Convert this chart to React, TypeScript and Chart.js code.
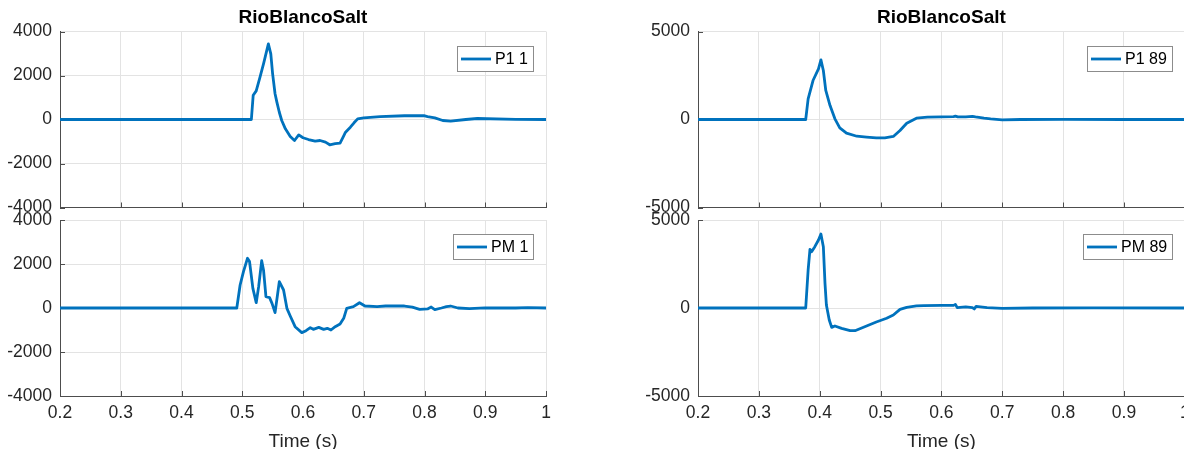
import React, { useEffect, useRef } from "react";
import { Chart, registerables } from "chart.js";

Chart.register(...registerables);

const FONT = '"Liberation Sans", Arial, Helvetica, sans-serif';
const TITLE = "RioBlancoSalt";
const X_LABEL = "Time (s)";
const X_MIN = 0.2;
const X_MAX = 1;
const X_STEP = 0.1;
const LINE_COLOR = "#0072BD";

// P1 1 (top left)
const p1_1_t = [0.2, 0.515, 0.518, 0.523, 0.529, 0.535, 0.540, 0.543, 0.547, 0.550, 0.554, 0.557, 0.561, 0.565, 0.571, 0.579, 0.586, 0.593, 0.600, 0.609, 0.620, 0.628, 0.637, 0.644, 0.653, 0.661, 0.666, 0.670, 0.678, 0.684, 0.690, 0.700, 0.727, 0.767, 0.799, 0.805, 0.817, 0.830, 0.843, 0.868, 0.887, 0.95, 1.0];
const p1_1_v = [0, 0, 1100, 1300, 1900, 2530, 3100, 3440, 2980, 2075, 1170, 790, 330, -45, -425, -770, -955, -700, -830, -910, -985, -955, -1030, -1150, -1100, -1075, -800, -575, -350, -150, 30, 75, 135, 170, 180, 135, 75, -45, -75, 0, 45, 10, 0];

// PM 1 (bottom left)
const pm_1_t = [0.2, 0.491, 0.4965, 0.502, 0.5086, 0.512, 0.5175, 0.523, 0.527, 0.532, 0.535, 0.539, 0.545, 0.549, 0.554, 0.558, 0.561, 0.568, 0.5735, 0.579, 0.587, 0.598, 0.605, 0.612, 0.617, 0.626, 0.634, 0.640, 0.646, 0.653, 0.661, 0.667, 0.672, 0.683, 0.693, 0.702, 0.722, 0.736, 0.767, 0.780, 0.792, 0.805, 0.811, 0.817, 0.828, 0.836, 0.843, 0.855, 0.874, 0.9, 0.95, 0.97, 1.0];
const pm_1_v = [0, 0, 1045, 1650, 2260, 2110, 895, 242, 970, 2150, 1730, 515, 470, 212, -212, 590, 1200, 818, -15, -364, -850, -1120, -1030, -894, -970, -880, -970, -924, -1000, -850, -727, -470, -15, 60, 240, 90, 60, 90, 90, 40, -60, -40, 45, -75, 0, 60, 90, 0, -30, 10, 0, 20, 0];

// P1 89 (top right)
const p1_89_t = [0.2, 0.377, 0.381, 0.389, 0.398, 0.402, 0.406, 0.410, 0.417, 0.425, 0.433, 0.444, 0.461, 0.477, 0.493, 0.507, 0.521, 0.532, 0.543, 0.559, 0.577, 0.600, 0.620, 0.623, 0.627, 0.640, 0.651, 0.656, 0.670, 0.681, 0.700, 0.73, 0.8, 0.9, 1.0];
const p1_89_v = [0, 0, 1175, 2215, 2880, 3390, 2785, 1650, 795, 40, -475, -775, -950, -1000, -1040, -1040, -965, -625, -210, 75, 132, 150, 160, 190, 150, 150, 180, 150, 80, 38, -19, 0, 10, 0, 0];

// PM 89 (bottom right)
const pm_89_t = [0.2, 0.377, 0.381, 0.384, 0.3867, 0.392, 0.398, 0.402, 0.406, 0.4087, 0.411, 0.4157, 0.4197, 0.425, 0.436, 0.450, 0.458, 0.466, 0.477, 0.493, 0.510, 0.521, 0.532, 0.543, 0.559, 0.571, 0.600, 0.620, 0.623, 0.626, 0.640, 0.651, 0.654, 0.657, 0.675, 0.700, 0.75, 0.85, 1.0];
const pm_89_v = [0, 0, 2160, 3335, 3200, 3485, 3865, 4205, 3485, 1400, 170, -680, -1100, -1020, -1155, -1290, -1290, -1175, -1020, -795, -585, -400, -75, 38, 115, 132, 150, 150, 207, 19, 60, 19, -56, 94, 19, -19, 0, 10, 0];

const LEFT_Y_MIN = -4000;
const LEFT_Y_MAX = 4000;
const LEFT_Y_STEP = 2000;
const RIGHT_Y_MIN = -5000;
const RIGHT_Y_MAX = 5000;
const RIGHT_Y_STEP = 5000;

const inwardTicks = {
  id: "inwardTicks",
  beforeDatasetsDraw(chart: any) {
    const { ctx, chartArea, scales } = chart;
    const xs = scales.x;
    const ys = scales.y;
    ctx.save();
    ctx.strokeStyle = "#4d4d4d";
    ctx.lineWidth = 1;
    ctx.beginPath();
    xs.ticks.forEach((t: any) => {
      const px = Math.round(xs.getPixelForValue(t.value)) + 0.5;
      ctx.moveTo(px, chartArea.bottom);
      ctx.lineTo(px, chartArea.bottom - 5);
    });
    ys.ticks.forEach((t: any) => {
      const py = Math.round(ys.getPixelForValue(t.value)) + 0.5;
      ctx.moveTo(chartArea.left, py);
      ctx.lineTo(chartArea.left + 5, py);
    });
    ctx.stroke();
    ctx.restore();
  },
};

const legendBox = {
  id: "legendBox",
  afterDraw(chart: any) {
    const ds = chart.data.datasets[0];
    const { ctx, chartArea } = chart;
    ctx.save();
    ctx.font = `16px ${FONT}`;
    const tw = ctx.measureText(ds.label).width;
    const padL = 4, lineLen = 30, gap = 4, padR = 5;
    const w = Math.round(padL + lineLen + gap + tw + padR);
    const h = 25;
    const right = Math.round(chartArea.right - 13);
    const left = right - w;
    const top = Math.round(chartArea.top + 14);
    ctx.fillStyle = "#ffffff";
    ctx.fillRect(left, top, w, h);
    ctx.strokeStyle = "#8c8c8c";
    ctx.lineWidth = 1;
    ctx.strokeRect(left + 0.5, top + 0.5, w, h);
    ctx.strokeStyle = ds.borderColor;
    ctx.lineWidth = 2.8;
    ctx.beginPath();
    ctx.moveTo(left + padL, top + h / 2 + 0.5);
    ctx.lineTo(left + padL + lineLen, top + h / 2 + 0.5);
    ctx.stroke();
    ctx.fillStyle = "#000000";
    ctx.textBaseline = "middle";
    ctx.textAlign = "left";
    ctx.fillText(ds.label, left + padL + lineLen + gap, top + h / 2 + 1);
    ctx.restore();
  },
};

type PanelProps = {
  label: string;
  times: number[];
  values: number[];
  yMin: number;
  yMax: number;
  yStep: number;
  isTop: boolean;
  left: number;
  top: number;
  width: number;
  height: number;
  yAxisWidth: number;
  padRight: number;
  padTop: number;
  xAxisHeight: number;
};

function Panel(p: PanelProps) {
  const ref = useRef<HTMLCanvasElement | null>(null);
  useEffect(() => {
    if (!ref.current) return;
    const chart = new Chart(ref.current, {
      type: "line",
      data: {
        datasets: [
          {
            label: p.label,
            data: p.times.map((t, i) => ({ x: t, y: p.values[i] })),
            borderColor: LINE_COLOR,
            backgroundColor: LINE_COLOR,
            borderWidth: 2.8,
            pointRadius: 0,
            tension: 0,
            fill: false,
            borderJoinStyle: "round",
            borderCapStyle: "round",
          },
        ],
      },
      options: {
        animation: false,
        responsive: false,
        maintainAspectRatio: false,
        events: [],
        layout: { padding: { left: 0, right: p.padRight, top: p.padTop, bottom: 0 } },
        plugins: {
          legend: { display: false },
          tooltip: { enabled: false },
          title: {
            display: p.isTop,
            text: TITLE,
            fullSize: false,
            color: "#000000",
            font: { family: FONT, size: 19, weight: "bold", lineHeight: 1.2 },
            padding: { top: 6.7, bottom: 2 },
          },
        },
        scales: {
          x: {
            type: "linear",
            min: X_MIN,
            max: X_MAX,
            afterFit: (s: any) => {
              s.height = p.xAxisHeight;
              s.paddingLeft = 0;
              s.paddingRight = 0;
            },
            ticks: {
              display: !p.isTop,
              stepSize: X_STEP,
              padding: 7,
              color: "#262626",
              font: { family: FONT, size: 17.5 },
              maxRotation: 0,
              autoSkip: false,
              callback: (v: any) => String(Number(Number(v).toFixed(1))),
            },
            grid: { color: "#e3e3e3", lineWidth: 1, drawTicks: false },
            border: { display: true, color: "#4d4d4d", width: 1 },
            title: {
              display: !p.isTop,
              text: X_LABEL,
              color: "#262626",
              font: { family: FONT, size: 19, lineHeight: 1.2 },
              padding: { top: 0, bottom: 0 },
            },
          },
          y: {
            type: "linear",
            min: p.yMin,
            max: p.yMax,
            afterFit: (s: any) => {
              s.width = p.yAxisWidth;
              s.paddingTop = 0;
              s.paddingBottom = 0;
            },
            ticks: {
              stepSize: p.yStep,
              padding: 8,
              color: "#262626",
              font: { family: FONT, size: 17.5 },
              autoSkip: false,
              callback: (v: any) => String(v),
            },
            grid: { color: "#e3e3e3", lineWidth: 1, drawTicks: false },
            border: { display: true, color: "#4d4d4d", width: 1 },
          },
        },
      } as any,
      plugins: [inwardTicks, legendBox],
    });
    return () => chart.destroy();
  }, []);
  return (
    <canvas
      ref={ref}
      width={p.width}
      height={p.height}
      style={{ position: "absolute", left: p.left, top: p.top, width: p.width, height: p.height }}
    />
  );
}

export default function App() {
  return (
    <div
      style={{
        position: "fixed",
        left: 0,
        top: 0,
        width: 1184,
        height: 449,
        overflow: "hidden",
        background: "#ffffff",
      }}
    >
      <Panel label="P1 1" times={p1_1_t} values={p1_1_v} yMin={LEFT_Y_MIN} yMax={LEFT_Y_MAX} yStep={LEFT_Y_STEP}
        isTop={true} left={0} top={0} width={600} height={225} yAxisWidth={60} padRight={54} padTop={0} xAxisHeight={17.5} />
      <Panel label="PM 1" times={pm_1_t} values={pm_1_v} yMin={LEFT_Y_MIN} yMax={LEFT_Y_MAX} yStep={LEFT_Y_STEP}
        isTop={false} left={0} top={200} width={600} height={253} yAxisWidth={60} padRight={54} padTop={20} xAxisHeight={57} />
      <Panel label="P1 89" times={p1_89_t} values={p1_89_v} yMin={RIGHT_Y_MIN} yMax={RIGHT_Y_MAX} yStep={RIGHT_Y_STEP}
        isTop={true} left={630} top={0} width={600} height={225} yAxisWidth={68} padRight={45.2} padTop={0} xAxisHeight={17.5} />
      <Panel label="PM 89" times={pm_89_t} values={pm_89_v} yMin={RIGHT_Y_MIN} yMax={RIGHT_Y_MAX} yStep={RIGHT_Y_STEP}
        isTop={false} left={630} top={200} width={600} height={253} yAxisWidth={68} padRight={45.2} padTop={20} xAxisHeight={57} />
    </div>
  );
}
